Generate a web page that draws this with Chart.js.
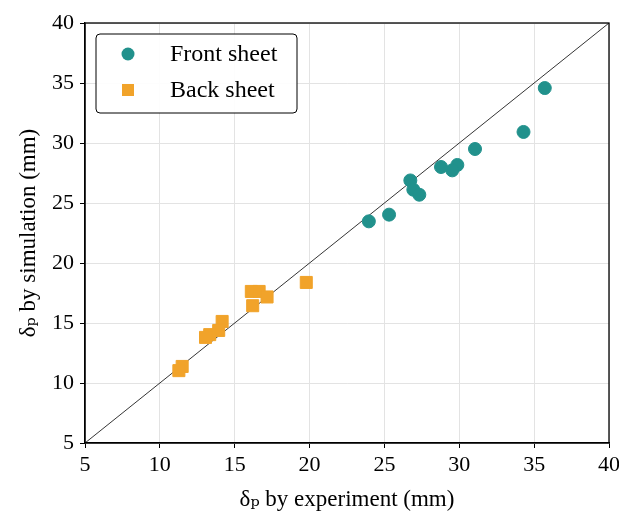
<!DOCTYPE html>
<html>
<head>
<meta charset="utf-8">
<script src="https://cdn.jsdelivr.net/npm/chart.js@4.4.0/dist/chart.umd.min.js"></script>
<style>
  html, body { margin: 0; padding: 0; background: #fff; }
  #wrap { width: 619px; height: 514px; }
</style>
</head>
<body>
<div id="wrap"><canvas id="scatterChart" width="619" height="514"></canvas></div>
<script>
// data (mm)
const frontX = [35.71, 34.29, 31.05, 29.87, 29.53, 28.78, 26.73, 26.93, 27.33, 25.31, 23.96];
const frontY = [34.58, 30.92, 29.50, 28.17, 27.72, 28.00, 26.88, 26.11, 25.69, 24.03, 23.47];
const backX = [19.78, 16.11, 16.63, 17.16, 16.20, 14.16, 13.93, 13.33, 13.05, 11.49, 11.27];
const backY = [18.38, 17.63, 17.63, 17.17, 16.44, 15.13, 14.38, 14.03, 13.80, 11.38, 11.03];
const axisMin = 5;
const axisMax = 40;
const legendLabels = ['Front sheet', 'Back sheet'];

const toPoints = (xs, ys) => xs.map((x, i) => ({ x: x, y: ys[i] }));

const serif = "'Liberation Serif', 'DejaVu Serif', serif";
const teal = '#21918c';
const orange = '#f1a32a';

// frame around the plot area + legend box drawn inside it
const framePlugin = {
    id: 'frameAndLegend',
    afterDraw(chart) {
        const { ctx, chartArea: a } = chart;
        ctx.save();
        ctx.strokeStyle = '#000';
        ctx.lineWidth = 1.3;
        ctx.strokeRect(a.left, a.top, a.right - a.left, a.bottom - a.top);

        // legend box
        const bx = 96, by = 34, bw = 201, bh = 79, r = 4;
        ctx.beginPath();
        ctx.moveTo(bx + r, by);
        ctx.arcTo(bx + bw, by, bx + bw, by + bh, r);
        ctx.arcTo(bx + bw, by + bh, bx, by + bh, r);
        ctx.arcTo(bx, by + bh, bx, by, r);
        ctx.arcTo(bx, by, bx + bw, by, r);
        ctx.closePath();
        ctx.fillStyle = 'rgba(255,255,255,0.9)';
        ctx.fill();
        ctx.lineWidth = 1;
        ctx.strokeStyle = '#000';
        ctx.stroke();

        ctx.fillStyle = teal;
        ctx.beginPath();
        ctx.arc(128, 54, 6.5, 0, Math.PI * 2);
        ctx.fill();
        ctx.fillStyle = orange;
        ctx.fillRect(122, 84, 12, 12);

        ctx.fillStyle = '#000';
        ctx.font = '24px ' + serif;
        ctx.textBaseline = 'middle';
        ctx.fillText(legendLabels[0], 170, 55);
        ctx.fillText(legendLabels[1], 170, 91);
        ctx.restore();
    }
};

const ctx = document.getElementById('scatterChart').getContext('2d');

new Chart(ctx, {
    type: 'scatter',
    data: {
        datasets: [
            {
                type: 'line',
                label: 'y = x',
                data: [{ x: axisMin, y: axisMin }, { x: axisMax, y: axisMax }],
                borderColor: '#000',
                borderWidth: 0.8,
                pointRadius: 0,
                order: 3
            },
            {
                label: legendLabels[0],
                data: toPoints(frontX, frontY),
                backgroundColor: teal,
                borderColor: teal,
                pointStyle: 'circle',
                pointRadius: 6.5,
                order: 1
            },
            {
                label: legendLabels[1],
                data: toPoints(backX, backY),
                backgroundColor: orange,
                borderColor: orange,
                pointStyle: 'rect',
                pointRadius: 8.5,
                order: 2
            }
        ]
    },
    options: {
        responsive: false,
        animation: false,
        layout: { padding: { left: 15, right: 0, top: 23, bottom: 0 } },
        plugins: {
            legend: { display: false },
            tooltip: { enabled: false }
        },
        scales: {
            x: {
                type: 'linear',
                min: axisMin,
                max: axisMax,
                ticks: { stepSize: 5, color: '#000', font: { family: serif, size: 22 }, padding: 4 },
                grid: { color: '#e3e3e3', tickColor: '#000', tickLength: 5, lineWidth: 1 },
                border: { color: '#000', width: 1.3 },
                title: {
                    display: true,
                    text: 'δₚ by experiment (mm)',
                    color: '#000',
                    font: { family: serif, size: 23 },
                    padding: { top: 0, bottom: 0 }
                },
                afterFit: s => { s.height = 71; s.paddingRight = 10; }
            },
            y: {
                type: 'linear',
                min: axisMin,
                max: axisMax,
                ticks: { stepSize: 5, color: '#000', font: { family: serif, size: 22 }, padding: 6 },
                grid: { color: '#e3e3e3', tickColor: '#000', tickLength: 5, lineWidth: 1 },
                border: { color: '#000', width: 1.3 },
                title: {
                    display: true,
                    text: 'δₚ by simulation (mm)',
                    color: '#000',
                    font: { family: serif, size: 23 },
                    padding: { top: 0, bottom: 0 }
                },
                afterFit: s => { s.width = 70; }
            }
        }
    },
    plugins: [framePlugin]
});
</script>
</body>
</html>
